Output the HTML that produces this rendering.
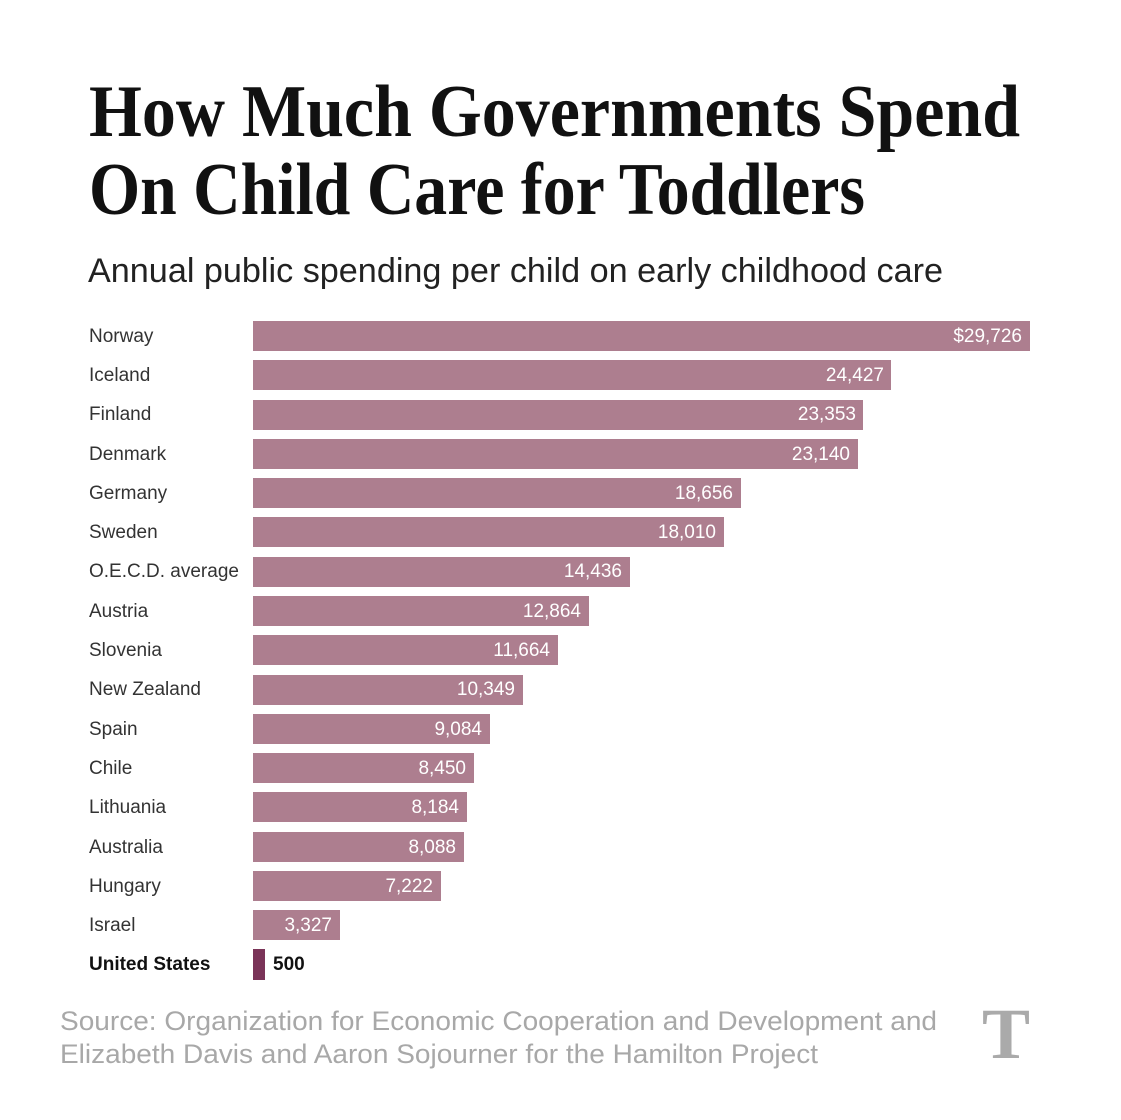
<!DOCTYPE html>
<html><head><meta charset="utf-8"><style>
html,body{margin:0;padding:0;background:#fff;}
svg{display:block;}
</style></head><body>
<svg width="1121" height="1120" viewBox="0 0 1121 1120" xmlns="http://www.w3.org/2000/svg">
<rect width="1121" height="1120" fill="#fff"/>
<g font-family="Liberation Serif, serif" font-weight="bold" fill="#111" font-size="74">
<text x="89" y="136" textLength="931" lengthAdjust="spacingAndGlyphs">How Much Governments Spend</text>
<text x="89" y="214" textLength="776" lengthAdjust="spacingAndGlyphs">On Child Care for Toddlers</text>
</g>
<text x="88" y="282" font-family="Liberation Sans, sans-serif" font-size="34" fill="#222" textLength="855" lengthAdjust="spacingAndGlyphs">Annual public spending per child on early childhood care</text>
<g font-family="Liberation Sans, sans-serif" font-size="19">
<g fill="#333">
<text x="89" y="342">Norway</text>
<text x="89" y="381">Iceland</text>
<text x="89" y="420">Finland</text>
<text x="89" y="460">Denmark</text>
<text x="89" y="499">Germany</text>
<text x="89" y="538">Sweden</text>
<text x="89" y="577">O.E.C.D. average</text>
<text x="89" y="617">Austria</text>
<text x="89" y="656">Slovenia</text>
<text x="89" y="695">New Zealand</text>
<text x="89" y="735">Spain</text>
<text x="89" y="774">Chile</text>
<text x="89" y="813">Lithuania</text>
<text x="89" y="853">Australia</text>
<text x="89" y="892">Hungary</text>
<text x="89" y="931">Israel</text>
</g>
<text x="89" y="970" font-weight="bold" fill="#111">United States</text>
<g fill="#ad7e8f">
<rect x="253" y="321" width="777" height="30"/>
<rect x="253" y="360" width="638" height="30"/>
<rect x="253" y="400" width="610" height="30"/>
<rect x="253" y="439" width="605" height="30"/>
<rect x="253" y="478" width="488" height="30"/>
<rect x="253" y="517" width="471" height="30"/>
<rect x="253" y="557" width="377" height="30"/>
<rect x="253" y="596" width="336" height="30"/>
<rect x="253" y="635" width="305" height="30"/>
<rect x="253" y="675" width="270" height="30"/>
<rect x="253" y="714" width="237" height="30"/>
<rect x="253" y="753" width="221" height="30"/>
<rect x="253" y="792" width="214" height="30"/>
<rect x="253" y="832" width="211" height="30"/>
<rect x="253" y="871" width="188" height="30"/>
<rect x="253" y="910" width="87" height="30"/>
</g>
<rect x="253" y="949" width="12" height="31" fill="#7a3458"/>
<g fill="#fff" text-anchor="end">
<text x="1022" y="342">$29,726</text>
<text x="884" y="381">24,427</text>
<text x="856" y="420">23,353</text>
<text x="850" y="460">23,140</text>
<text x="733" y="499">18,656</text>
<text x="716" y="538">18,010</text>
<text x="622" y="577">14,436</text>
<text x="581" y="617">12,864</text>
<text x="550" y="656">11,664</text>
<text x="515" y="695">10,349</text>
<text x="482" y="735">9,084</text>
<text x="466" y="774">8,450</text>
<text x="459" y="813">8,184</text>
<text x="456" y="853">8,088</text>
<text x="433" y="892">7,222</text>
<text x="332" y="931">3,327</text>
</g>
<text x="273" y="970" font-weight="bold" fill="#111">500</text>
</g>
<g font-family="Liberation Sans, sans-serif" font-size="27" fill="#a8a8a8">
<text x="60" y="1030" textLength="877" lengthAdjust="spacingAndGlyphs">Source: Organization for Economic Cooperation and Development and</text>
<text x="60" y="1063" textLength="758" lengthAdjust="spacingAndGlyphs">Elizabeth Davis and Aaron Sojourner for the Hamilton Project</text>
</g>
<text x="1006" y="1058" text-anchor="middle" font-family="Liberation Serif, serif" font-weight="bold" font-size="72" fill="#aaa">T</text>
</svg>
</body></html>
